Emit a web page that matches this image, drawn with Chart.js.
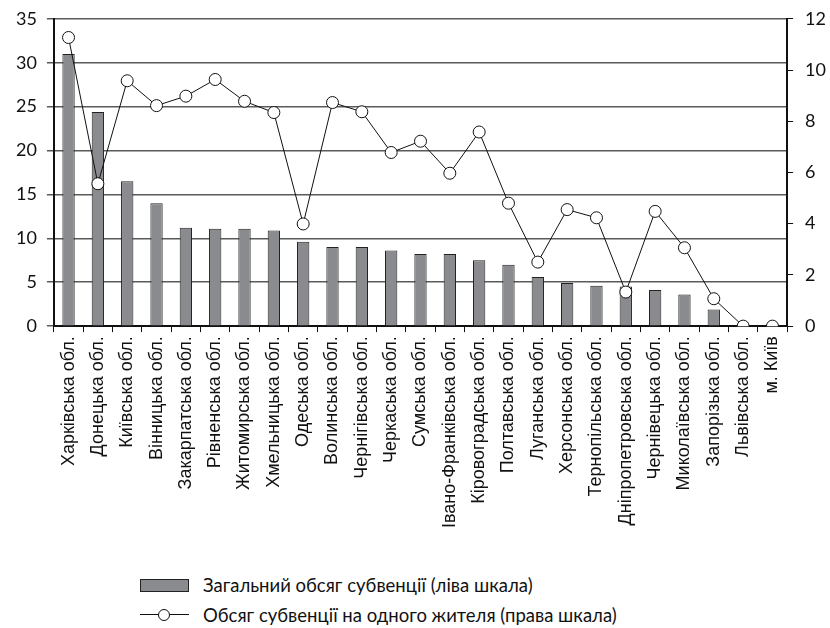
<!DOCTYPE html>
<html lang="uk">
<head>
<meta charset="utf-8">
<title>Субвенції по областях</title>
<script src="https://cdn.jsdelivr.net/npm/chart.js@4"></script>
<style>
  html, body { margin: 0; padding: 0; background: #fff; }
  #wrap { position: relative; width: 830px; height: 628px; overflow: hidden; }
  #chartBox { position: absolute; left: 0; top: -4px; width: 838px; height: 536px; }
  .legend { position: absolute; left: 140px; font-family: Lato, "Open Sans", sans-serif; font-size: 18.5px; color: #111; }
  .legend-row { display: flex; align-items: center; height: 30px; }
  .swatch { width: 47px; height: 11px; background: #8a8b8f; border: 1px solid #222; margin-right: 14px; }
  .line-swatch { position: relative; width: 49px; height: 12px; margin-right: 14px; }
  .line-swatch::before { content: ''; position: absolute; left: 0; right: 0; top: 5px; border-top: 1px solid #111; }
  .line-swatch::after { content: ''; position: absolute; left: 18px; top: 0; width: 10px; height: 10px; border: 1px solid #111; border-radius: 50%; background: #fff; }
</style>
</head>
<body>
<div id="wrap">
  <div id="chartBox"><canvas id="subventionChart"></canvas></div>
  <div class="legend" style="top: 570px;">
    <div class="legend-row"><span class="swatch"></span><span id="legendBars"></span></div>
    <div class="legend-row"><span class="line-swatch"></span><span id="legendLine"></span></div>
  </div>
</div>
<script>
// Області (категорії)
const regions = [
  'Харківська обл.', 'Донецька обл.', 'Київська обл.', 'Вінницька обл.',
  'Закарпатська обл.', 'Рівненська обл.', 'Житомирська обл.', 'Хмельницька обл.',
  'Одеська обл.', 'Волинська обл.', 'Чернігівська обл.', 'Черкаська обл.',
  'Сумська обл.', 'Івано-Франківська обл.', 'Кіровоградська обл.', 'Полтавська обл.',
  'Луганська обл.', 'Херсонська обл.', 'Тернопільська обл.', 'Дніпропетровська обл.',
  'Чернівецька обл.', 'Миколаївська обл.', 'Запорізька обл.', 'Львівська обл.', 'м. Київ'
];

// Загальний обсяг субвенції (ліва шкала)
const totalSubvention = [
  31.0, 24.4, 16.5, 14.0, 11.2, 11.1, 11.1, 10.9, 9.6, 9.0, 9.0, 8.6, 8.2,
  8.2, 7.5, 7.0, 5.6, 4.9, 4.6, 4.5, 4.1, 3.6, 1.9, 0, 0
];

// Обсяг субвенції на одного жителя (права шкала)
const perResident = [
  11.27, 5.56, 9.58, 8.61, 8.98, 9.63, 8.78, 8.34, 3.99, 8.73, 8.37, 6.78, 7.22,
  5.97, 7.58, 4.80, 2.50, 4.55, 4.23, 1.33, 4.48, 3.06, 1.07, 0, 0
];

const leftTicks = { min: 0, max: 35, step: 5 };
const rightTicks = { min: 0, max: 12, step: 2 };

const barLabel = 'Загальний обсяг субвенції (ліва шкала)';
const lineLabel = 'Обсяг субвенції на одного жителя (права шкала)';

document.getElementById('legendBars').textContent = barLabel;
document.getElementById('legendLine').textContent = lineLabel;

const numFont = { family: 'Lato, "Open Sans", sans-serif', size: 18 };

new Chart(document.getElementById('subventionChart'), {
  type: 'bar',
  data: {
    labels: regions,
    datasets: [
      {
        type: 'line',
        label: lineLabel,
        data: perResident,
        yAxisID: 'y1',
        borderColor: '#111',
        borderWidth: 1,
        pointRadius: 6,
        pointBackgroundColor: '#fff',
        pointBorderColor: '#111',
        pointBorderWidth: 1,
        tension: 0,
        order: 0
      },
      {
        label: barLabel,
        data: totalSubvention,
        yAxisID: 'y',
        backgroundColor: '#8a8b8f',
        borderColor: '#222',
        borderWidth: 1,
        barPercentage: 0.42,
        categoryPercentage: 1,
        order: 1
      }
    ]
  },
  options: {
    responsive: true,
    maintainAspectRatio: false,
    animation: false,
    layout: { padding: { left: 6, right: 0, top: 3, bottom: 0 } },
    plugins: {
      legend: { display: false },
      tooltip: { enabled: false }
    },
    scales: {
      x: {
        grid: {
          offset: true,
          drawOnChartArea: false,
          drawTicks: true,
          tickLength: 6,
          color: '#111'
        },
        border: { color: '#111', width: 2 },
        ticks: {
          minRotation: 90,
          maxRotation: 90,
          autoSkip: false,
          padding: 4,
          color: '#111',
          font: { family: '"Liberation Sans", Arial, sans-serif', size: 18 }
        }
      },
      y: {
        position: 'left',
        min: leftTicks.min,
        max: leftTicks.max,
        ticks: { stepSize: leftTicks.step, padding: 10, color: '#111', font: numFont },
        grid: { color: '#5a5a5a', lineWidth: 1.5, tickLength: 7 },
        border: { color: '#111', width: 2 }
      },
      y1: {
        position: 'right',
        min: rightTicks.min,
        max: rightTicks.max,
        ticks: { stepSize: rightTicks.step, padding: 12, color: '#111', font: numFont },
        grid: { drawOnChartArea: false, color: '#111', tickLength: 6 },
        border: { color: '#111', width: 2 }
      }
    }
  }
});
</script>
</body>
</html>
